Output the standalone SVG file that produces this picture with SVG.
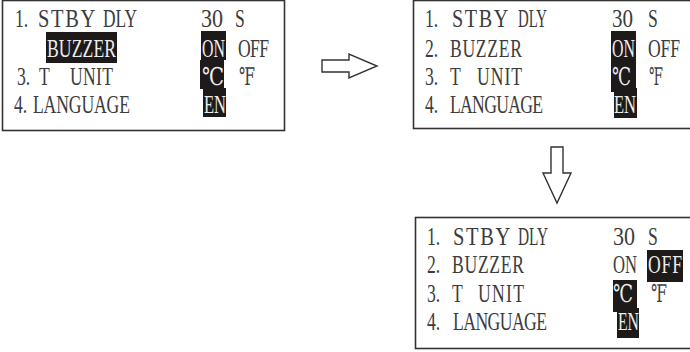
<svg xmlns="http://www.w3.org/2000/svg" width="690" height="352" viewBox="0 0 690 352">
<style>
.frame{fill:#fff;stroke:#333;stroke-width:1.6}
text{font-family:"Liberation Serif","DejaVu Serif",serif;font-size:24.5px;fill:#3c3c3c}
text.w{fill:#ececec}
text.s{letter-spacing:2px}
.hl{fill:#1e1a1a}
.arrow{fill:#fff;stroke:#333;stroke-width:1.4;stroke-linejoin:miter}
</style>
<rect width="690" height="352" fill="#fff"/>
<g id="screen1">
<rect class="frame" x="2.5" y="0.5" width="282" height="130"/>
<rect class="hl" x="46" y="32" width="71" height="31"/>
<rect class="hl" x="201" y="31" width="25" height="29"/>
<rect class="hl" x="200" y="60" width="24" height="29"/>
<rect class="hl" x="203" y="88" width="23" height="29"/>
<g transform="scale(0.72 1)">
<text x="20.8" y="27">1.</text>
<text class="s" x="52.8" y="27" textLength="81.9" lengthAdjust="spacingAndGlyphs">STBY</text>
<text x="143.1" y="27" textLength="47.2" lengthAdjust="spacingAndGlyphs">DLY</text>
<text class="w" x="65.3" y="57" textLength="95.8" lengthAdjust="spacing">BUZZER</text>
<text x="23.6" y="85">3.</text>
<text x="54.2" y="85">T</text>
<text x="97.2" y="85" textLength="59.7" lengthAdjust="spacing">UNIT</text>
<text x="19.4" y="113">4.</text>
<text x="45.8" y="113" textLength="134.7" lengthAdjust="spacing">LANGUAGE</text>
<text x="279.2" y="27" textLength="30.6" lengthAdjust="spacingAndGlyphs">30</text>
<text x="326.4" y="27">S</text>
<text class="w" x="280.6" y="57" textLength="31.9" lengthAdjust="spacingAndGlyphs">ON</text>
<text x="330.6" y="57" textLength="43.1" lengthAdjust="spacing">OFF</text>
<text class="w" x="280.6" y="85" textLength="30.6" lengthAdjust="spacingAndGlyphs">℃</text>
<text x="331.9" y="85" textLength="22.2" lengthAdjust="spacingAndGlyphs">℉</text>
<text class="w" x="283.3" y="113" textLength="30.6" lengthAdjust="spacingAndGlyphs">EN</text>
</g>
</g>
<g id="screen2">
<rect class="frame" x="413.5" y="0.5" width="280" height="128"/>
<rect class="hl" x="611" y="31" width="25" height="29"/>
<rect class="hl" x="611" y="60" width="25" height="32"/>
<rect class="hl" x="614" y="88" width="23" height="30"/>
<g transform="scale(0.72 1)">
<text x="590.3" y="27">1.</text>
<text class="s" x="627.8" y="27" textLength="80.6" lengthAdjust="spacingAndGlyphs">STBY</text>
<text x="719.4" y="27" textLength="40.3" lengthAdjust="spacingAndGlyphs">DLY</text>
<text x="590.3" y="57">2.</text>
<text x="625" y="57" textLength="100" lengthAdjust="spacing">BUZZER</text>
<text x="590.3" y="85">3.</text>
<text x="625" y="85">T</text>
<text x="662.5" y="85" textLength="62.5" lengthAdjust="spacing">UNIT</text>
<text x="590.3" y="113">4.</text>
<text x="625" y="113" textLength="129.2" lengthAdjust="spacing">LANGUAGE</text>
<text x="850" y="27" textLength="29.2" lengthAdjust="spacingAndGlyphs">30</text>
<text x="900" y="27">S</text>
<text class="w" x="850" y="57" textLength="31.9" lengthAdjust="spacingAndGlyphs">ON</text>
<text x="900" y="57" textLength="44.4" lengthAdjust="spacing">OFF</text>
<text class="w" x="850" y="85" textLength="26.4" lengthAdjust="spacingAndGlyphs">℃</text>
<text x="901.4" y="85" textLength="19.4" lengthAdjust="spacingAndGlyphs">℉</text>
<text class="w" x="852.8" y="113" textLength="30.6" lengthAdjust="spacingAndGlyphs">EN</text>
</g>
</g>
<g id="screen3">
<rect class="frame" x="415.5" y="217.5" width="280" height="131"/>
<rect class="hl" x="647" y="250" width="36" height="32"/>
<rect class="hl" x="613" y="280" width="24" height="32"/>
<rect class="hl" x="617" y="308" width="22" height="30"/>
<g transform="scale(0.72 1)">
<text x="593.1" y="245">1.</text>
<text class="s" x="629.2" y="245" textLength="81.9" lengthAdjust="spacingAndGlyphs">STBY</text>
<text x="719.4" y="245" textLength="41.7" lengthAdjust="spacingAndGlyphs">DLY</text>
<text x="593.1" y="273">2.</text>
<text x="627.8" y="273" textLength="100" lengthAdjust="spacing">BUZZER</text>
<text x="593.1" y="302">3.</text>
<text x="627.8" y="302">T</text>
<text x="663.9" y="302" textLength="63.9" lengthAdjust="spacing">UNIT</text>
<text x="593.1" y="330">4.</text>
<text x="629.2" y="330" textLength="130.6" lengthAdjust="spacing">LANGUAGE</text>
<text x="851.4" y="245" textLength="30.6" lengthAdjust="spacingAndGlyphs">30</text>
<text x="900" y="245">S</text>
<text x="851.4" y="273" textLength="33.3" lengthAdjust="spacingAndGlyphs">ON</text>
<text class="w" x="900" y="273" textLength="47.2" lengthAdjust="spacing">OFF</text>
<text class="w" x="851.4" y="302" textLength="27.8" lengthAdjust="spacingAndGlyphs">℃</text>
<text x="904.2" y="302" textLength="22.2" lengthAdjust="spacingAndGlyphs">℉</text>
<text class="w" x="858.3" y="330" textLength="29.2" lengthAdjust="spacingAndGlyphs">EN</text>
</g>
</g>
<g id="connectors">
<polygon class="arrow" points="322,60 349,60 349,54 377,66 349,78 349,72 322,72"/>
<polygon class="arrow" points="551,147 563,147 563,173 571,173 557,203 543,173 551,173"/>
</g>
</svg>
